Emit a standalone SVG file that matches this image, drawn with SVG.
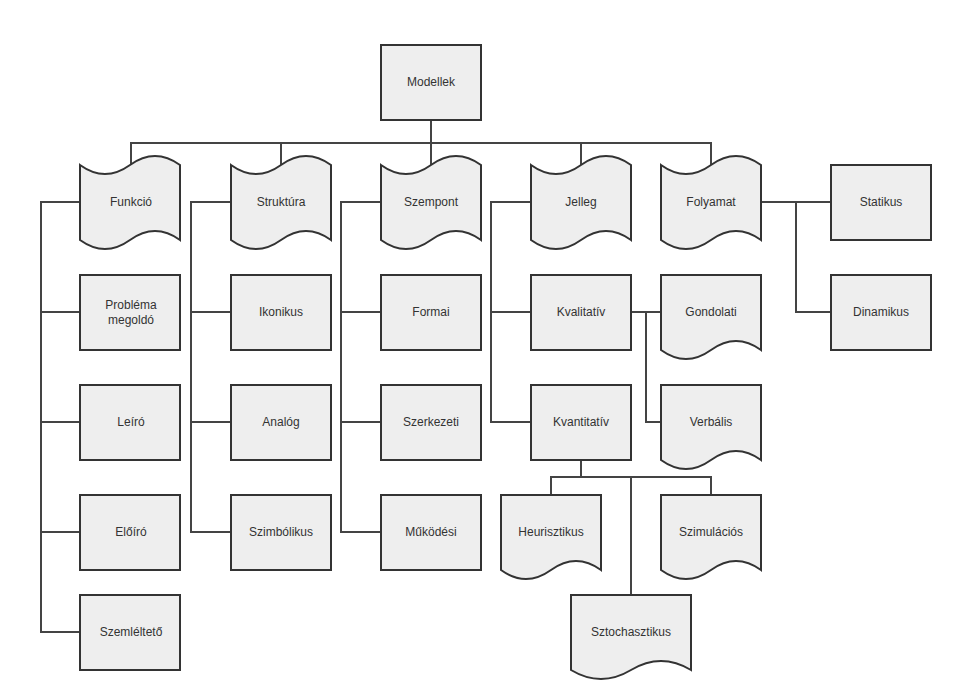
<svg xmlns="http://www.w3.org/2000/svg" xmlns:xlink="http://www.w3.org/1999/xlink" width="957" height="690" viewBox="0 0 957 690">
<style>
.n{fill:#eeeeee;stroke:#333333;stroke-width:2}
.t{font-family:"Liberation Sans",Arial,sans-serif;font-size:12px;fill:#333333;text-anchor:middle;dominant-baseline:central}
.e{fill:none;stroke:#444444;stroke-width:2}
</style>
<defs>
<path id="tape" d="M0,10 Q25,28 50,10 Q75,-8 100,10 L100,85 Q75,67 50,85 Q25,103 0,85 Z"/>
<path id="doc" d="M0,0 L100,0 L100,75 Q75,57 50,75 Q25,93 0,75 Z"/>
<path id="docw" d="M0,0 L120,0 L120,75 Q90,57 60,75 Q30,93 0,75 Z"/>
</defs>
<rect width="957" height="690" fill="#ffffff"/>
<g id="connectors">
<path class="e" d="M431,120 V143 M131,165 V143 H711 V165 M281,143 V165 M431,143 V165 M581,143 V165"/>
<path class="e" d="M80,202 H41 V632 H80 M41,312 H80 M41,422 H80 M41,532 H80"/>
<path class="e" d="M231,202 H191 V532 H231 M191,312 H231 M191,422 H231"/>
<path class="e" d="M381,202 H341 V532 H381 M341,312 H381 M341,422 H381"/>
<path class="e" d="M531,202 H491 V422 H531 M491,312 H531"/>
<path class="e" d="M631,312 H661 M646,312 V422 H661"/>
<path class="e" d="M761,202 H831 M796,202 V312 H831"/>
<path class="e" d="M581,460 V477 M551,495 V477 H711 V495 M631,477 V595"/>
</g>
<g id="modellek"><rect class="n" x="381" y="45" width="100" height="75"/><text class="t" x="431" y="82">Modellek</text></g>
<g id="funkcio"><use href="#tape" class="n" x="80" y="155"/><text class="t" x="131" y="202">Funkció</text></g>
<g id="struktura"><use href="#tape" class="n" x="231" y="155"/><text class="t" x="281" y="202">Struktúra</text></g>
<g id="szempont"><use href="#tape" class="n" x="381" y="155"/><text class="t" x="431" y="202">Szempont</text></g>
<g id="jelleg"><use href="#tape" class="n" x="531" y="155"/><text class="t" x="581" y="202">Jelleg</text></g>
<g id="folyamat"><use href="#tape" class="n" x="661" y="155"/><text class="t" x="711" y="202">Folyamat</text></g>
<g id="statikus"><rect class="n" x="831" y="165" width="100" height="75"/><text class="t" x="881" y="202">Statikus</text></g>
<g id="dinamikus"><rect class="n" x="831" y="275" width="100" height="75"/><text class="t" x="881" y="312">Dinamikus</text></g>
<g id="problema"><rect class="n" x="80" y="275" width="100" height="75"/><text class="t" x="131" y="305">Probléma</text><text class="t" x="131" y="320">megoldó</text></g>
<g id="leiro"><rect class="n" x="80" y="385" width="100" height="75"/><text class="t" x="131" y="422">Leíró</text></g>
<g id="eloiro"><rect class="n" x="80" y="495" width="100" height="75"/><text class="t" x="131" y="532">Előíró</text></g>
<g id="szemlelteto"><rect class="n" x="80" y="595" width="100" height="75"/><text class="t" x="131" y="632">Szemléltető</text></g>
<g id="ikonikus"><rect class="n" x="231" y="275" width="100" height="75"/><text class="t" x="281" y="312">Ikonikus</text></g>
<g id="analog"><rect class="n" x="231" y="385" width="100" height="75"/><text class="t" x="281" y="422">Analóg</text></g>
<g id="szimbolikus"><rect class="n" x="231" y="495" width="100" height="75"/><text class="t" x="281" y="532">Szimbólikus</text></g>
<g id="formai"><rect class="n" x="381" y="275" width="100" height="75"/><text class="t" x="431" y="312">Formai</text></g>
<g id="szerkezeti"><rect class="n" x="381" y="385" width="100" height="75"/><text class="t" x="431" y="422">Szerkezeti</text></g>
<g id="mukodesi"><rect class="n" x="381" y="495" width="100" height="75"/><text class="t" x="431" y="532">Működési</text></g>
<g id="kvalitativ"><rect class="n" x="531" y="275" width="100" height="75"/><text class="t" x="581" y="312">Kvalitatív</text></g>
<g id="kvantitativ"><rect class="n" x="531" y="385" width="100" height="75"/><text class="t" x="581" y="422">Kvantitatív</text></g>
<g id="gondolati"><use href="#doc" class="n" x="661" y="275"/><text class="t" x="711" y="312">Gondolati</text></g>
<g id="verbalis"><use href="#doc" class="n" x="661" y="385"/><text class="t" x="711" y="422">Verbális</text></g>
<g id="heurisztikus"><use href="#doc" class="n" x="501" y="495"/><text class="t" x="551" y="532">Heurisztikus</text></g>
<g id="szimulacios"><use href="#doc" class="n" x="661" y="495"/><text class="t" x="711" y="532">Szimulációs</text></g>
<g id="sztochasztikus"><use href="#docw" class="n" x="571" y="595"/><text class="t" x="631" y="632">Sztochasztikus</text></g>
</svg>
